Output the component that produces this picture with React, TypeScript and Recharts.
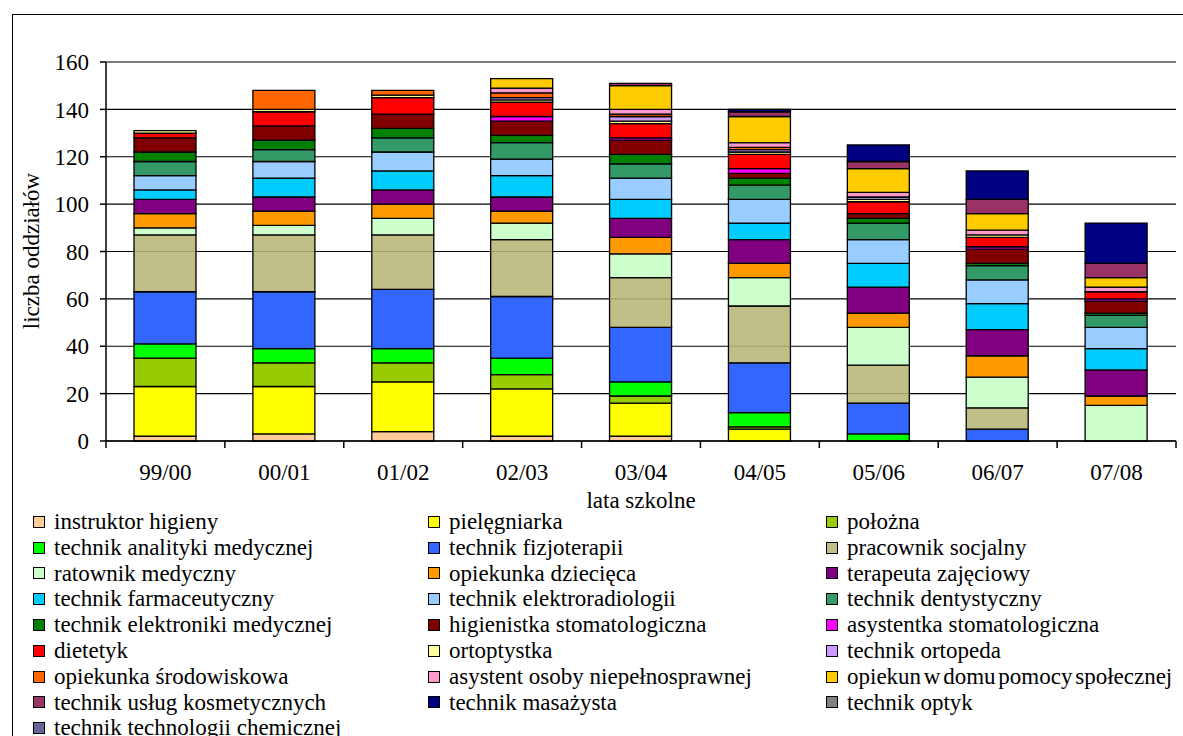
import React from "react";
import { BarChart, Bar, XAxis, YAxis, CartesianGrid, Label } from "recharts";

const FONT = '"Liberation Serif", "DejaVu Serif", serif';

// school years on the x axis
const years = ["99/00", "00/01", "01/02", "02/03", "03/04", "04/05", "05/06", "06/07", "07/08"];
const yTicks = [0, 20, 40, 60, 80, 100, 120, 140, 160];

// number of classes per profession, one entry per school year
const instruktorHigieny = [2, 3, 4, 2, 2, 0, 0, 0, 0];
const pielegniarka = [21, 20, 21, 20, 14, 5, 0, 0, 0];
const polozna = [12, 10, 8, 6, 3, 1, 0, 0, 0];
const technikAnalityki = [6, 6, 6, 7, 6, 6, 3, 0, 0];
const technikFizjoterapii = [22, 24, 25, 26, 23, 21, 13, 5, 0];
const pracownikSocjalny = [24, 24, 23, 24, 21, 24, 16, 9, 0];
const ratownikMedyczny = [3, 4, 7, 7, 10, 12, 16, 13, 15];
const opiekunkaDziecieca = [6, 6, 6, 5, 7, 6, 6, 9, 4];
const terapeutaZajeciowy = [6, 6, 6, 6, 8, 10, 11, 11, 11];
const technikFarmaceutyczny = [4, 8, 8, 9, 8, 7, 10, 11, 9];
const technikElektroradiologii = [6, 7, 8, 7, 9, 10, 10, 10, 9];
const technikDentystyczny = [6, 5, 6, 7, 6, 6, 7, 6, 5];
const technikElektroniki = [4, 4, 4, 3, 4, 3, 2, 1, 1];
const higienistkaStomatologiczna = [6, 6, 6, 6, 6, 2, 2, 6, 5];
const asystentkaStomatologiczna = [0, 0, 0, 2, 1, 2, 0, 1, 1];
const dietetyk = [2, 6, 7, 6, 6, 6, 5, 4, 3];
const ortoptystka = [1, 1, 1, 1, 1, 1, 1, 1, 0];
const technikOrtopeda = [0, 0, 0, 1, 2, 1, 1, 0, 0];
const opiekunkaSrodowiskowa = [0, 8, 2, 2, 1, 1, 0, 0, 0];
const asystentOsoby = [0, 0, 0, 2, 2, 2, 2, 2, 2];
const opiekunDps = [0, 0, 0, 4, 10, 11, 10, 7, 4];
const technikKosmetyczny = [0, 0, 0, 0, 1, 2, 3, 6, 6];
const technikMasazysta = [0, 0, 0, 0, 0, 1, 7, 12, 17];
const technikOptyk = [0, 0, 0, 0, 0, 0, 0, 0, 0];
const technikChemiczny = [0, 0, 0, 0, 0, 0, 0, 0, 0];

const seriesNames = [
  "instruktor higieny",
  "pielęgniarka",
  "położna",
  "technik analityki medycznej",
  "technik fizjoterapii",
  "pracownik socjalny",
  "ratownik medyczny",
  "opiekunka dziecięca",
  "terapeuta zajęciowy",
  "technik farmaceutyczny",
  "technik elektroradiologii",
  "technik dentystyczny",
  "technik elektroniki medycznej",
  "higienistka stomatologiczna",
  "asystentka stomatologiczna",
  "dietetyk",
  "ortoptystka",
  "technik ortopeda",
  "opiekunka środowiskowa",
  "asystent osoby niepełnosprawnej",
  "opiekun w domu pomocy społecznej",
  "technik usług kosmetycznych",
  "technik masażysta",
  "technik optyk",
  "technik technologii chemicznej",
];

const seriesValues = [
  instruktorHigieny, pielegniarka, polozna, technikAnalityki, technikFizjoterapii,
  pracownikSocjalny, ratownikMedyczny, opiekunkaDziecieca, terapeutaZajeciowy,
  technikFarmaceutyczny, technikElektroradiologii, technikDentystyczny, technikElektroniki,
  higienistkaStomatologiczna, asystentkaStomatologiczna, dietetyk, ortoptystka,
  technikOrtopeda, opiekunkaSrodowiskowa, asystentOsoby, opiekunDps,
  technikKosmetyczny, technikMasazysta, technikOptyk, technikChemiczny,
];

const seriesColors = [
  "#FFCC99", "#FFFF00", "#99CC00", "#00FF00", "#3366FF",
  "#BFBF86", "#CCFFCC", "#FF9900", "#800080", "#00CCFF",
  "#99CCFF", "#339966", "#008000", "#800000", "#FF00FF",
  "#FF0000", "#FFFF99", "#CC99FF", "#FF6600", "#FF99CC",
  "#FFCC00", "#993366", "#000080", "#808080", "#666699",
];

const data = years.map((year, i) => {
  const row: Record<string, string | number> = { year };
  seriesValues.forEach((vals, s) => {
    row["s" + s] = vals[i];
  });
  return row;
});

// x tick: label in the middle, tick marks on the category borders (like Excel)
const YearTick = (props: any) => {
  const { x, y, payload, index, width, visibleTicksCount } = props;
  const count = visibleTicksCount || years.length;
  const band = (width || 1070) / count;
  return (
    <g>
      <line x1={x - band / 2} x2={x - band / 2} y1={y} y2={y + 7} stroke="#000" strokeWidth={1.5} />
      {index === count - 1 && (
        <line x1={x + band / 2} x2={x + band / 2} y1={y} y2={y + 7} stroke="#000" strokeWidth={1.5} />
      )}
      <text x={x} y={y + 39} textAnchor="middle" fontSize={23} fontFamily={FONT} fill="#000">
        {payload.value}
      </text>
    </g>
  );
};

const legendCols = [33, 428, 826];

const App = () => {
  return (
    <div style={{ position: "absolute", left: 0, top: 0, width: 1183, height: 736, overflow: "hidden", background: "#fff" }}>
      {/* chart frame */}
      <div
        style={{
          position: "absolute",
          left: 12,
          top: 14,
          width: 1200,
          height: 800,
          border: "1.5px solid #000",
          boxSizing: "border-box",
        }}
      />

      <div style={{ position: "absolute", left: 0, top: 0 }}>
        <BarChart
          width={1183}
          height={520}
          data={data}
          margin={{ top: 62, right: 7, left: 0, bottom: 0 }}
          barSize={62}
        >
          <CartesianGrid vertical={false} stroke="#000" strokeWidth={1.2} />
          <XAxis
            dataKey="year"
            height={79}
            tickSize={0}
            tickMargin={0}
            tickLine={false}
            axisLine={{ stroke: "#000", strokeWidth: 1.5 }}
            tick={<YearTick />}
            interval={0}
          >
            <Label
              content={() => (
                <text x={641} y={500} textAnchor="middle" dominantBaseline="central" fontSize={23} fontFamily={FONT} fill="#000">
                  lata szkolne
                </text>
              )}
            />
          </XAxis>
          <YAxis
            width={106}
            domain={[0, 160]}
            ticks={yTicks}
            interval={0}
            tickSize={6}
            tickMargin={11}
            axisLine={{ stroke: "#000", strokeWidth: 1.5 }}
            tickLine={{ stroke: "#000", strokeWidth: 1.5 }}
            tick={{ fill: "#000", fontSize: 23, fontFamily: FONT }}
          >
            <Label
              content={() => (
                <text
                  x={31}
                  y={251}
                  transform="rotate(-90 31 251)"
                  textAnchor="middle"
                  dominantBaseline="central"
                  fontSize={23}
                  fontFamily={FONT}
                  fill="#000"
                >
                  liczba oddziałów
                </text>
              )}
            />
          </YAxis>
          {seriesNames.map((name, s) => (
            <Bar
              key={name}
              name={name}
              dataKey={"s" + s}
              stackId="a"
              fill={s === 5 ? "#B6B676" : seriesColors[s]}
              fillOpacity={s === 5 ? 0.88 : 1}
              stroke="#000"
              strokeWidth={1.3}
              isAnimationActive={false}
            />
          ))}
        </BarChart>
      </div>

      {/* legend, 3 columns, row by row */}
      {seriesNames.map((name, s) => {
        const row = Math.floor(s / 3);
        const col = s % 3;
        return (
          <div
            key={name}
            style={{
              position: "absolute",
              left: legendCols[col],
              top: 509 + row * 25.8,
              height: 25.8,
              display: "flex",
              alignItems: "center",
              whiteSpace: "nowrap",
              fontFamily: FONT,
              fontSize: 23,
              // the long entry has tighter word gaps in the original
              wordSpacing: name.length > 30 && col === 2 ? -3 : 0,
              color: "#000",
            }}
          >
            <span
              style={{
                display: "inline-block",
                width: 12,
                height: 12,
                background: seriesColors[s],
                border: "1.5px solid #000",
                boxSizing: "border-box",
                marginRight: 9,
              }}
            />
            <span>{name}</span>
          </div>
        );
      })}
    </div>
  );
};

export default App;
